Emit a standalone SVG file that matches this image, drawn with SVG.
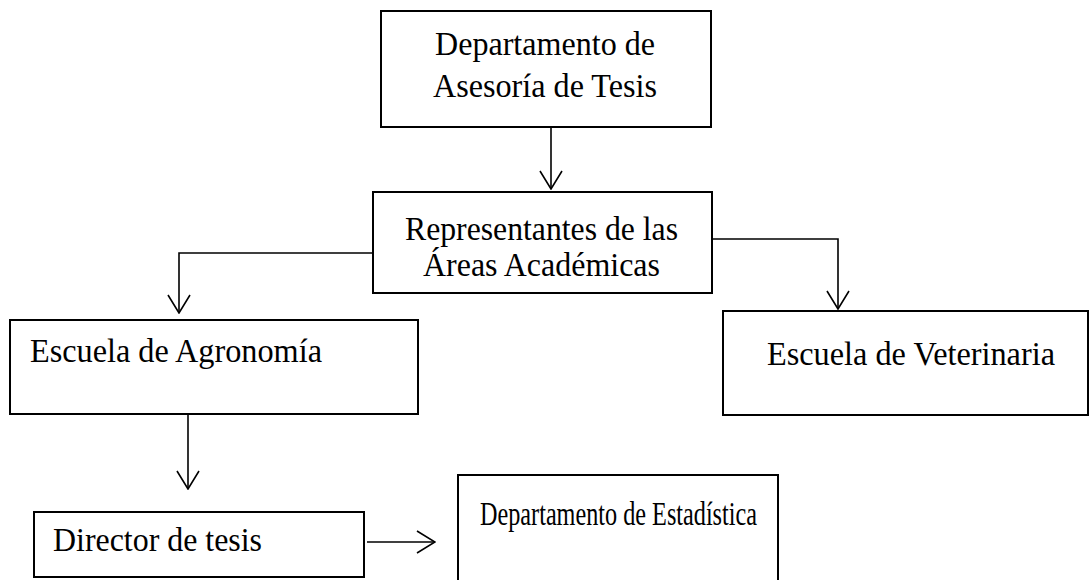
<svg xmlns="http://www.w3.org/2000/svg" width="1091" height="580" viewBox="0 0 1091 580">
<defs>
<style>
.box{fill:#fff;stroke:#000;stroke-width:2}
.t{font-family:"Liberation Serif","Times New Roman",serif;font-size:33px;fill:#000}
.c{fill:none;stroke:#000;stroke-width:1.6}
</style>
<marker id="ah" viewBox="0 0 20 24" refX="19" refY="12" markerWidth="20" markerHeight="24" markerUnits="userSpaceOnUse" orient="auto">
<path d="M1,1 L19,12 L1,23" fill="none" stroke="#000" stroke-width="1.6"/>
</marker>
</defs>
<rect width="1091" height="580" fill="#fff"/>
<g id="connectors">
<line class="c" x1="551" y1="127" x2="551" y2="189" marker-end="url(#ah)"/>
<polyline class="c" points="372,253 179,253 179,313" marker-end="url(#ah)"/>
<polyline class="c" points="712,239 838,239 838,309" marker-end="url(#ah)"/>
<line class="c" x1="188" y1="415" x2="188" y2="489" marker-end="url(#ah)"/>
<line class="c" x1="367" y1="542" x2="435" y2="542" marker-end="url(#ah)"/>
</g>
<g id="n-asesoria">
<rect class="box" x="381" y="11" width="330" height="116"/>
<text class="t" x="435" y="55" textLength="220" lengthAdjust="spacingAndGlyphs">Departamento de</text>
<text class="t" x="433" y="97" textLength="224" lengthAdjust="spacingAndGlyphs">Asesoría de Tesis</text>
</g>
<g id="n-representantes">
<rect class="box" x="373" y="192" width="339" height="101"/>
<text class="t" x="405" y="240" textLength="273" lengthAdjust="spacingAndGlyphs">Representantes de las</text>
<text class="t" x="423" y="276" textLength="237" lengthAdjust="spacingAndGlyphs">Áreas Académicas</text>
</g>
<g id="n-agronomia">
<rect class="box" x="10" y="320" width="408" height="94"/>
<text class="t" x="30" y="362" textLength="292" lengthAdjust="spacingAndGlyphs">Escuela de Agronomía</text>
</g>
<g id="n-veterinaria">
<rect class="box" x="723" y="311" width="365" height="104"/>
<text class="t" x="767" y="365" textLength="288" lengthAdjust="spacingAndGlyphs">Escuela de Veterinaria</text>
</g>
<g id="n-director">
<rect class="box" x="34" y="512" width="330" height="65"/>
<text class="t" x="53" y="551" textLength="209" lengthAdjust="spacingAndGlyphs">Director de tesis</text>
</g>
<g id="n-estadistica">
<rect class="box" x="458" y="475" width="320" height="130"/>
<text class="t" x="480" y="525" textLength="277" lengthAdjust="spacingAndGlyphs">Departamento de Estadística</text>
</g>
</svg>
